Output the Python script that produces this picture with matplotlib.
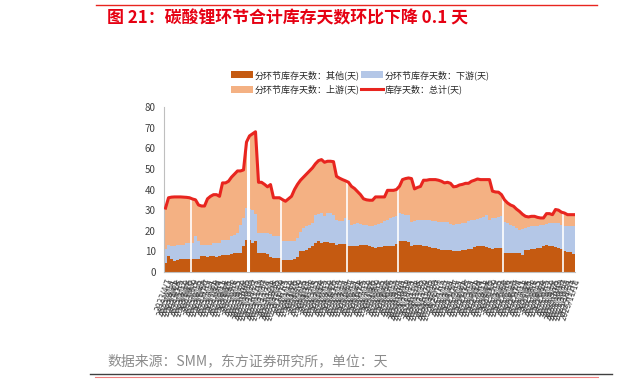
import matplotlib
matplotlib.use('Agg')
import matplotlib.pyplot as plt
from matplotlib.patches import Patch
from matplotlib.lines import Line2D
import numpy as np
import pandas as pd

plt.rcParams['font.family'] = ['Noto Sans CJK SC', 'DejaVu Sans']

# weekly observation dates (x tick labels)
dates = pd.date_range('2023-04-07', periods=137, freq='7D')
date_labels = [f'{d.year}/{d.month}/{d.day}' for d in dates]

# inventory days by segment (days)
other = [4.4, 7.6, 6.5, 5.2, 5.8, 6.3, 6.3, 6.3, 6.5, 6.3,
         6.3, 6.5, 7.6, 7.6, 7.4, 7.6, 7.6, 7.4, 7.8, 8.4,
         8.4, 8.4, 8.6, 9.2, 9.2, 9.2, 12.5, 15.7, 15.7, 14.0,
         15.0, 9.2, 9.2, 9.0, 8.8, 7.5, 7.0, 7.0, 7.0, 5.7,
         5.7, 5.8, 5.9, 6.3, 7.5, 10.0, 10.4, 10.8, 11.5, 12.5,
         14.0, 14.9, 14.1, 14.4, 14.4, 14.1, 14.1, 13.3, 13.5, 13.6,
         13.5, 12.8, 12.5, 12.6, 12.8, 13.0, 13.3, 13.0, 12.5, 12.0,
         11.7, 12.0, 12.3, 12.5, 12.6, 12.8, 12.8, 13.5, 14.9, 14.9,
         14.9, 14.5, 12.8, 13.0, 13.3, 13.0, 12.8, 12.5, 12.2, 11.7,
         11.5, 11.0, 10.8, 10.6, 10.5, 10.5, 10.0, 10.1, 10.3, 10.5,
         10.8, 11.0, 11.2, 12.0, 12.8, 12.6, 12.5, 12.0, 11.5, 11.2,
         11.4, 11.6, 11.7, 9.2, 9.2, 9.2, 9.2, 9.2, 9.0, 8.4,
         10.5, 10.8, 11.0, 11.2, 11.4, 11.7, 12.5, 13.3, 12.8, 12.5,
         12.2, 11.7, 11.0, 10.0, 9.8, 9.5, 8.9]

downstream = [6.6, 5.7, 6.0, 7.6, 7.2, 6.7, 6.7, 7.7, 7.5, 7.7,
              11.0, 8.5, 5.7, 5.7, 5.9, 5.7, 6.4, 6.6, 6.2, 7.3,
              7.3, 7.3, 8.7, 8.8, 9.8, 13.8, 13.5, 15.3, 14.8, 16.0,
              13.0, 9.8, 9.8, 10.0, 10.2, 11.0, 10.5, 10.5, 10.5, 9.3,
              9.2, 9.1, 9.0, 8.7, 9.0, 9.5, 11.0, 11.7, 11.5, 11.3,
              13.8, 13.1, 14.5, 12.6, 14.2, 14.5, 13.7, 12.1, 11.1, 11.0,
              12.7, 12.2, 10.5, 10.9, 11.0, 10.5, 9.7, 9.8, 10.0, 10.5,
              11.3, 11.2, 11.5, 12.1, 12.6, 13.4, 13.7, 13.5, 13.7, 13.4,
              12.9, 13.3, 11.3, 11.8, 12.1, 12.4, 12.6, 12.7, 12.9, 13.1,
              13.0, 13.1, 13.6, 13.5, 13.6, 13.0, 13.0, 13.1, 13.2, 13.1,
              13.0, 13.5, 13.8, 13.4, 13.0, 13.6, 14.3, 15.8, 13.9, 14.8,
              14.8, 15.0, 15.3, 14.9, 14.6, 13.8, 13.1, 12.2, 11.6, 12.6,
              11.0, 11.0, 11.2, 11.1, 11.1, 10.9, 10.5, 10.0, 11.0, 11.3,
              11.6, 12.1, 12.0, 12.5, 12.5, 12.7, 13.3]

total = [31.0, 36.0, 36.3, 36.4, 36.4, 36.4, 36.3, 36.2, 36.0, 35.4,
         35.0, 32.5, 32.0, 32.0, 35.5, 36.7, 37.5, 37.5, 36.7, 43.2,
         43.2, 44.0, 46.0, 47.5, 49.0, 49.0, 49.5, 63.0, 66.0, 67.0,
         68.0, 43.5, 43.5, 42.5, 41.3, 42.4, 36.0, 36.0, 36.0, 35.1,
         34.3, 35.5, 36.7, 40.0, 42.5, 44.5, 46.0, 47.5, 49.0, 50.5,
         52.5, 54.0, 54.5, 53.2, 53.7, 53.7, 53.5, 46.4, 45.5, 44.8,
         44.2, 43.5, 41.5, 40.5, 39.0, 37.5, 35.5, 35.0, 34.8, 34.8,
         36.4, 36.4, 36.4, 36.4, 39.6, 39.6, 39.6, 40.0, 41.6, 44.8,
         45.3, 45.6, 45.3, 40.3, 41.0, 41.5, 44.5, 44.5, 44.8, 44.8,
         44.8, 44.5, 44.0, 43.2, 43.5, 43.0, 41.3, 41.5, 42.2, 42.5,
         43.0, 43.0, 44.0, 44.5, 45.1, 44.8, 44.8, 44.8, 44.8, 39.2,
         38.8, 38.7, 37.5, 35.0, 33.5, 32.5, 31.9, 30.5, 29.4, 28.0,
         27.0, 26.7, 27.0, 27.0, 26.5, 26.2, 26.2, 28.3, 28.3, 27.8,
         30.3, 30.0, 29.0, 28.6, 27.8, 27.8, 27.8]

# weeks where the column series are broken (white separators)
breaks = [9, 28, 39, 61, 78, 113, 133]

other = np.array(other)
downstream = np.array(downstream)
total = np.array(total)
upstream = total - other - downstream  # remainder of the stack

c_other = '#C55A11'
c_down = '#B4C7E7'
c_up = '#F4B183'
c_total = '#E8251F'

fig = plt.figure(figsize=(6.22, 3.8), dpi=100)
ax = fig.add_axes([0.2637, 0.2842, 0.6607, 0.4342])

x = np.arange(len(total))
ax.bar(x, other, width=1.0, color=c_other, linewidth=0)
ax.bar(x, downstream, width=1.0, bottom=other, color=c_down, linewidth=0)
ax.bar(x, upstream, width=1.0, bottom=other + downstream, color=c_up, linewidth=0)
for b in breaks:
    lw = 2.2 if b == 28 else 1.2
    ax.axvline(b - 0.5, color='white', linewidth=lw, zorder=3)
ax.plot(x, total, color=c_total, linewidth=2.2, solid_joinstyle='round', zorder=4)

ax.set_xlim(-0.5, len(total) - 0.5)
ax.set_ylim(0, 80)
ax.set_yticks(np.arange(0, 81, 10))
ax.tick_params(axis='y', length=0, labelsize=7, labelcolor='#404040', pad=6)
ax.set_xticks(x)
ax.set_xticklabels(date_labels, rotation=70, ha='right', rotation_mode='anchor',
                   fontsize=5.5, color='#404040', family='DejaVu Sans')
ax.tick_params(axis='x', length=0, pad=4)
for s in ['top', 'right']:
    ax.spines[s].set_visible(False)
for s in ['left', 'bottom']:
    ax.spines[s].set_color('#BFBFBF')
    ax.spines[s].set_linewidth(0.8)

handles = [Patch(facecolor=c_other, edgecolor='none'),
           Patch(facecolor=c_up, edgecolor='none'),
           Patch(facecolor=c_down, edgecolor='none'),
           Line2D([0], [0], color=c_total, linewidth=2.2)]
labels = ['分环节库存天数：其他(天)', '分环节库存天数：上游(天)',
          '分环节库存天数：下游(天)', '库存天数：总计(天)']
fig.legend(handles, labels, ncol=2, loc='upper left',
           bbox_to_anchor=(231 / 622, 1 - 70 / 380), frameon=False,
           fontsize=6.5, handlelength=2.4, handleheight=0.9,
           columnspacing=0.2, handletextpad=0.2, labelspacing=0.55,
           borderaxespad=0, borderpad=0, labelcolor='#262626')

# header, footer and rules
fig.add_artist(Line2D([96 / 622, 597 / 622], [1 - 5 / 380, 1 - 5 / 380],
                      color='#E8251F', linewidth=1.0))
fig.text(107 / 622, 1 - 18 / 380, '图 21：碳酸锂环节合计库存天数环比下降 0.1 天',
         color='#E60012', fontsize=12.2, fontweight='bold', va='center', ha='left')
fig.text(107 / 622, 1 - 361 / 380, '数据来源：SMM，东方证券研究所，单位：天',
         color='#8C8C8C', fontsize=10, va='center', ha='left')
fig.add_artist(Line2D([90 / 622, 612 / 622], [1 - 374 / 380, 1 - 374 / 380],
                      color='#404040', linewidth=1.0))
fig.add_artist(Line2D([95 / 622, 598 / 622], [1 - 376.5 / 380, 1 - 376.5 / 380],
                      color='#F08080', linewidth=0.8))

fig.savefig('out.png', dpi=100)
